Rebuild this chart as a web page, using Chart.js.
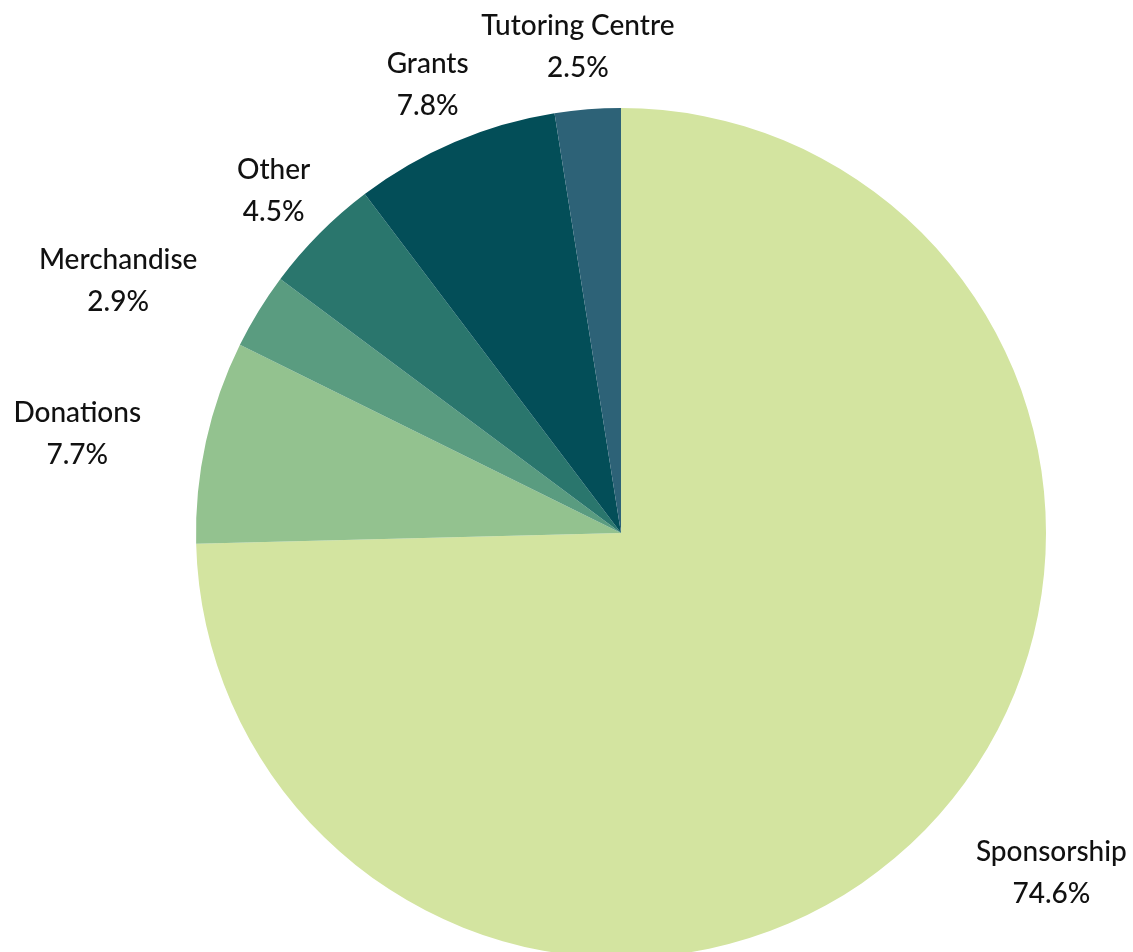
<!DOCTYPE html>
<html>
<head>
<meta charset="utf-8">
<title>Income sources</title>
<script src="https://cdn.jsdelivr.net/npm/chart.js@4.4.1/dist/chart.umd.min.js"></script>
<style>
  html, body { margin: 0; padding: 0; background: #ffffff; overflow: hidden; }
  #wrap { position: relative; width: 1133px; height: 958px; }
</style>
</head>
<body>
<div id="wrap"><canvas id="pie"></canvas></div>
<script>
// data (percent of total)
const categories = ['Sponsorship', 'Donations', 'Merchandise', 'Other', 'Grants', 'Tutoring Centre'];
const shares = [74.6, 7.7, 2.9, 4.5, 7.8, 2.5];
const sliceColours = ['#d3e4a0', '#93c28f', '#5a9c80', '#2a766d', '#034e58', '#2d6277'];

// outside-end labels, placed from each arc's own geometry
const outsideLabels = {
  id: 'outsideLabels',
  afterDatasetsDraw(chart, args, opts) {
    const ctx = chart.ctx;
    const meta = chart.getDatasetMeta(0);
    ctx.save();
    ctx.font = opts.font;
    ctx.fillStyle = opts.color;
    ctx.textAlign = 'center';
    ctx.textBaseline = 'middle';
    meta.data.forEach((arc, i) => {
      const mid = (arc.startAngle + arc.endAngle) / 2;
      const dx = Math.cos(mid), dy = Math.sin(mid);
      const line1 = chart.data.labels[i];
      const line2 = chart.data.datasets[0].data[i].toFixed(1) + '%';
      const w = Math.max(ctx.measureText(line1).width, ctx.measureText(line2).width);
      const h = opts.lineGap * 2;
      const r = arc.outerRadius + opts.gap;
      const nudge = opts.nudge[i] || [0, 0];
      const cx = arc.x + dx * r + dx * w / 2 + nudge[0];
      const cy = arc.y + dy * r + dy * h / 2 + nudge[1] + opts.yShift;
      ctx.fillText(line1, cx, cy - opts.lineGap / 2);
      ctx.fillText(line2, cx, cy + opts.lineGap / 2);
    });
    ctx.restore();
  }
};

new Chart(document.getElementById('pie'), {
  type: 'pie',
  data: {
    labels: categories,
    datasets: [{
      data: shares,
      backgroundColor: sliceColours,
      borderWidth: 0
    }]
  },
  options: {
    responsive: true,
    maintainAspectRatio: false,
    animation: false,
    layout: { padding: { left: 196, right: 87, top: 108, bottom: 0 } },
    plugins: {
      legend: { display: false },
      tooltip: { enabled: false },
      outsideLabels: {
        font: '500 28px Lato, "Noto Sans", sans-serif',
        color: '#111111',
        gap: 28,
        lineGap: 42,
        yShift: 7,
        nudge: [[52, -13], [-39, 0], [-49, 0], [0, 0], [0, 0], [0, 0]]
      }
    }
  },
  plugins: [outsideLabels]
});
</script>
</body>
</html>
